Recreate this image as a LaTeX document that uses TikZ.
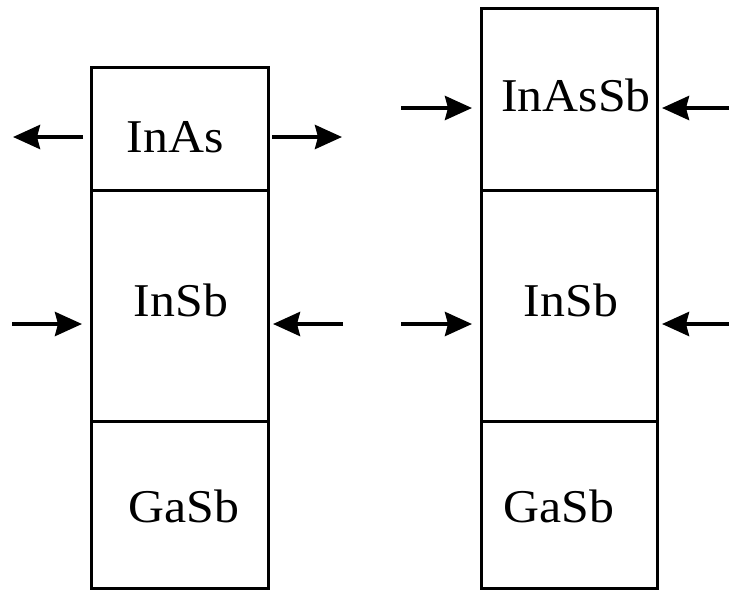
\documentclass[tikz,border=0pt]{standalone}
\usepackage{fontspec}
\setmainfont{Liberation Serif}[FakeStretch=1.06]
\usetikzlibrary{arrows.meta}
\tikzset{
  layer/.style={draw, line width=3pt, inner sep=0pt, outer sep=0pt},
  lbl/.style={anchor=base, inner sep=0pt, font=\fontsize{47}{47}\selectfont},
  force/.style={line width=4pt, -{Stealth[length=27pt,width=24pt,inset=3pt]}, shorten >=0pt}
}
\begin{document}
\begin{tikzpicture}[x=1pt,y=-1pt]
\useasboundingbox (0,0) rectangle (729,592);
% left stack
\node[layer, minimum width=177pt, minimum height=123pt] (inasL) at (179.5,128.5) {};
\node[layer, minimum width=177pt, minimum height=231pt] (insbL) at (179.5,305.5) {};
\node[layer, minimum width=177pt, minimum height=167pt] (gasbL) at (179.5,504.5) {};
% right stack
\node[layer, minimum width=176pt, minimum height=182pt] (inassbR) at (569,99) {};
\node[layer, minimum width=176pt, minimum height=231pt] (insbR) at (569,305.5) {};
\node[layer, minimum width=176pt, minimum height=167pt] (gasbR) at (569,504.5) {};
% labels
\node[lbl] (t1) at (175,152) {InAs};
\node[lbl] (t2) at (181,316) {InSb};
\node[lbl] (t3) at (184,522) {GaSb};
\node[lbl] (t4) at (576,111) {InAsSb};
\node[lbl] (t5) at (571,316) {InSb};
\node[lbl] (t6) at (559,522) {GaSb};
% arrow coordinates
\coordinate (a1s) at (83,137);  \coordinate (a1e) at (13,137);
\coordinate (a2s) at (272,137); \coordinate (a2e) at (342,137);
\coordinate (a3s) at (12,324);  \coordinate (a3e) at (82,324);
\coordinate (a4s) at (343,324); \coordinate (a4e) at (273,324);
\coordinate (a5s) at (401,108); \coordinate (a5e) at (472,108);
\coordinate (a6s) at (729,108); \coordinate (a6e) at (662,108);
\coordinate (a7s) at (401,324); \coordinate (a7e) at (472,324);
\coordinate (a8s) at (729,324); \coordinate (a8e) at (662,324);
\foreach \i in {1,...,8} { \draw[force] (a\i s) -- (a\i e); }
\end{tikzpicture}
\end{document}
